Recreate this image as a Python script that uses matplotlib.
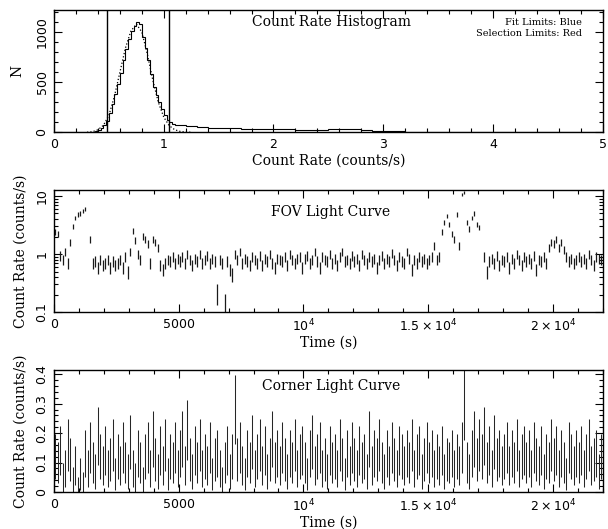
import numpy as np
import matplotlib
matplotlib.use("Agg")
import matplotlib.pyplot as plt
from matplotlib.ticker import MultipleLocator, FixedLocator, FixedFormatter, LogLocator, NullFormatter

nan = np.nan

# --- count rate histogram (counts per bin) ---
hist_edges = np.concatenate([np.linspace(0.30, 1.10, 33)[:-1], np.linspace(1.10, 5.0, 40)])
hist_counts = [0, 2, 5, 12, 25, 45, 70, 110,
               190, 280, 380, 480, 590, 720, 830, 930,
               1010, 1060, 1100, 1080, 950, 840, 720, 580,
               450, 370, 300, 230, 170, 120, 100, 85,
               70, 60, 52, 45, 40, 38, 35, 33, 30, 30,
               28, 27, 26, 26, 28, 30, 28, 22, 15, 10,
               8, 7, 6, 5, 4, 4, 3, 3, 2, 2,
               2, 2, 1, 1, 1, 1, 1, 1, 1]
fit_rate = [0.30, 0.35, 0.40, 0.45, 0.50, 0.55, 0.60, 0.65, 0.70, 0.75,
            0.80, 0.85, 0.90, 0.95, 1.00, 1.05, 1.10, 1.15, 1.20, 1.25]
fit_counts = [0, 5, 25, 70, 170, 360, 600, 840, 1010, 1080,
              1000, 780, 520, 300, 150, 65, 25, 8, 2, 0]
sel_limits = [0.48, 1.05]

# --- light curves, 100 s bins ---
bin_size = 100.0
fov_rate = [
    2.4, 2.2, 0.95, 0.8, 1.1, 0.7, 1.6, 3.0, 4.2, 4.8,
    5.0, 5.5, 5.9, nan, 1.8, 0.7, 0.75, 0.6, 0.8, 0.65,
    0.7, 0.8, 0.6, 0.75, 0.65, 0.7, 0.8, 0.6, 0.9, 0.5,
    1.1, 2.5, 1.7, 1.0, 0.8, 2.0, 1.8, 1.5, 0.7, 1.8,
    1.6, 1.3, 0.65, 0.55, 0.7, 0.8, 0.75, 0.9, 0.7, 0.85,
    0.75, 0.9, 0.7, 1.0, 0.8, 0.65, 0.85, 0.75, 1.0, 0.7,
    0.8, 0.95, 0.7, 0.85, 0.75, 0.22, 0.8, 0.7, 0.14, 0.75,
    0.55, 0.45, 1.0, 0.8, 1.1, 0.7, 0.85, 0.75, 0.65, 0.9,
    0.8, 0.7, 0.95, 0.65, 0.85, 0.75, 1.0, 0.7, 0.6, 0.85,
    0.8, 0.75, 0.9, 0.65, 1.0, 0.8, 0.7, 0.85, 0.9, 0.6,
    0.85, 0.95, 0.7, 0.8, 1.1, 0.75, 0.6, 0.9, 0.8, 0.75,
    1.0, 0.7, 0.85, 0.65, 0.9, 1.1, 0.75, 0.8, 0.7, 0.95,
    0.75, 0.85, 0.65, 1.0, 0.8, 0.7, 0.9, 0.75, 0.85, 0.6,
    0.8, 0.95, 0.7, 0.85, 0.75, 1.05, 0.8, 0.65, 0.9, 0.75,
    0.7, 1.1, 0.85, 0.55, 0.8, 0.7, 0.9, 0.75, 0.85, 0.7,
    0.8, 0.9, 1.4, 0.8, 0.9, 2.4, 3.5, 4.5, 3.2, 2.2,
    1.8, 4.8, 1.4, 10.5, 11.5, 3.5, 2.7, 4.2, 5.0, 3.2,
    2.9, nan, 0.9, 0.5, 0.75, 0.85, 0.7, 0.95, 0.65, 0.8,
    0.75, 0.9, 0.6, 0.85, 0.7, 1.0, 0.8, 0.65, 0.9, 0.75,
    0.85, 0.7, 0.95, 0.55, 0.8, 0.75, 0.9, 0.7, 1.3, 1.6,
    1.5, 1.8, 1.3, 1.6, 1.2, 0.9, 0.75, 0.85, 0.7, 0.8,
    0.9, 0.75, 0.85, 0.7, 1.0, 0.8, 0.65, 0.9, 0.85, 0.8,
]
corner_rate = [
    0.12, 0.10, 0.14, 0.05, 0.08, 0.16, 0.11, 0.04, 0.09, 0.02,
    0.06, 0.03, 0.13, 0.08, 0.15, 0.10, 0.07, 0.19, 0.12, 0.09,
    0.14, 0.08, 0.11, 0.16, 0.06, 0.12, 0.09, 0.15, 0.10, 0.07,
    0.17, 0.08, 0.05, 0.13, 0.10, 0.04, 0.12, 0.15, 0.08, 0.18,
    0.11, 0.07, 0.14, 0.09, 0.16, 0.06, 0.12, 0.10, 0.15, 0.08,
    0.13, 0.18, 0.09, 0.21, 0.11, 0.07, 0.14, 0.10, 0.16, 0.08,
    0.12, 0.09, 0.15, 0.06, 0.11, 0.13, 0.08, 0.04, 0.10, 0.14,
    0.07, 0.12, 0.28, 0.11, 0.15, 0.09, 0.06, 0.13, 0.10, 0.17,
    0.08, 0.12, 0.16, 0.09, 0.14, 0.07, 0.11, 0.18, 0.10, 0.13,
    0.09, 0.15, 0.11, 0.07, 0.13, 0.10, 0.16, 0.08, 0.12, 0.14,
    0.10, 0.06, 0.13, 0.17, 0.09, 0.12, 0.15, 0.08, 0.11, 0.07,
    0.14, 0.10, 0.12, 0.08, 0.16, 0.11, 0.06, 0.13, 0.09, 0.15,
    0.11, 0.08, 0.14, 0.10, 0.12, 0.07, 0.18, 0.09, 0.13, 0.11,
    0.16, 0.10, 0.07, 0.13, 0.09, 0.15, 0.11, 0.08, 0.14, 0.12,
    0.09, 0.13, 0.10, 0.16, 0.08, 0.12, 0.14, 0.07, 0.11, 0.15,
    0.10, 0.13, 0.08, 0.12, 0.09, 0.14, 0.07, 0.11, 0.10, 0.13,
    0.08, 0.12, 0.09, 0.15, 0.30, 0.10, 0.07, 0.13, 0.18, 0.11,
    0.16, 0.12, 0.19, 0.10, 0.14, 0.08, 0.17, 0.11, 0.13, 0.09,
    0.12, 0.15, 0.09, 0.13, 0.10, 0.16, 0.08, 0.12, 0.14, 0.10,
    0.13, 0.08, 0.15, 0.11, 0.09, 0.14, 0.07, 0.12, 0.10, 0.16,
    0.11, 0.14, 0.08, 0.13, 0.10, 0.06, 0.15, 0.12, 0.09, 0.13,
    0.10, 0.14, 0.08, 0.12, 0.16, 0.09, 0.11, 0.13, 0.07, 0.12,
]

time_ticks = [0, 5000, 10000, 15000, 20000]
time_labels = ['0', '5000', r'$10^4$', r'$1.5\times10^4$', r'$2\times10^4$']

plt.rcParams['mathtext.fontset'] = 'dejavusans'
LABEL_FONT = dict(family='DejaVu Serif', size=10)
TICK_SIZE = 9

fig = plt.figure(figsize=(6.08, 5.29), dpi=100)


def style_axes(ax):
    ax.tick_params(which='both', direction='in', top=True, right=True,
                   labelsize=TICK_SIZE, width=0.8, pad=4)
    ax.tick_params(which='major', length=6)
    ax.tick_params(which='minor', length=3)
    for s in ax.spines.values():
        s.set_linewidth(1.0)
    for lab in ax.get_yticklabels():
        lab.set_rotation(90)
        lab.set_va('center')


# panel 1: histogram
ax1 = fig.add_axes([0.089, 0.750, 0.902, 0.231])
ax1.stairs(hist_counts, hist_edges, color='black', lw=0.8)
ax1.plot([0, 0.30], [0, 0], color='black', lw=0.8)
ax1.plot(fit_rate, fit_counts, color='black', lw=0.9, ls=':')
for v in sel_limits:
    ax1.axvline(v, color='black', lw=1.0)
ax1.set_xlim(0, 5)
ax1.set_ylim(0, 1220)
ax1.xaxis.set_major_locator(MultipleLocator(1))
ax1.xaxis.set_minor_locator(MultipleLocator(0.2))
ax1.yaxis.set_major_locator(MultipleLocator(500))
ax1.yaxis.set_minor_locator(MultipleLocator(100))
ax1.set_xlabel('Count Rate (counts/s)', **LABEL_FONT, labelpad=2)
ax1.set_ylabel('N', **LABEL_FONT, labelpad=8)
ax1.text(0.505, 0.90, 'Count Rate Histogram', transform=ax1.transAxes,
         ha='center', va='center', **LABEL_FONT)
ax1.text(0.962, 0.90, 'Fit Limits: Blue', transform=ax1.transAxes,
         ha='right', va='center', family='DejaVu Serif', size=7)
ax1.text(0.962, 0.81, 'Selection Limits: Red', transform=ax1.transAxes,
         ha='right', va='center', family='DejaVu Serif', size=7)
style_axes(ax1)

t = np.arange(len(fov_rate)) * bin_size + bin_size / 2
fov = np.array(fov_rate)
corner = np.array(corner_rate)
fov_exposure = 30.0
corner_exposure = 20.0
fov_err = np.sqrt(fov * fov_exposure) / fov_exposure
corner_err = np.sqrt(corner * corner_exposure) / corner_exposure

# panel 2: FOV light curve
ax2 = fig.add_axes([0.089, 0.410, 0.902, 0.231])
ax2.errorbar(t, fov, yerr=fov_err, fmt='none', ecolor='0.1', elinewidth=0.9)
ax2.set_yscale('log')
ax2.set_xlim(0, 22000)
ax2.set_ylim(0.1, 12.7)
ax2.yaxis.set_major_locator(FixedLocator([0.1, 1, 10]))
ax2.yaxis.set_major_formatter(FixedFormatter(['0.1', '1', '10']))
ax2.yaxis.set_minor_locator(LogLocator(base=10, subs=np.arange(2, 10)))
ax2.yaxis.set_minor_formatter(NullFormatter())
ax2.xaxis.set_major_locator(FixedLocator(time_ticks))
ax2.xaxis.set_major_formatter(FixedFormatter(time_labels))
ax2.xaxis.set_minor_locator(MultipleLocator(1000))
ax2.set_xlabel('Time (s)', **LABEL_FONT, labelpad=1)
ax2.set_ylabel('Count Rate (counts/s)', **LABEL_FONT, labelpad=6)
ax2.text(0.505, 0.82, 'FOV Light Curve', transform=ax2.transAxes,
         ha='center', va='center', **LABEL_FONT)
style_axes(ax2)

# panel 3: corner light curve
ax3 = fig.add_axes([0.089, 0.070, 0.902, 0.231])
ax3.errorbar(t, corner, yerr=corner_err, fmt='none', ecolor='0.15', elinewidth=0.75)
ax3.set_xlim(0, 22000)
ax3.set_ylim(0, 0.415)
ax3.yaxis.set_major_locator(FixedLocator([0, 0.1, 0.2, 0.3, 0.4]))
ax3.yaxis.set_major_formatter(FixedFormatter(['0', '0.1', '0.2', '0.3', '0.4']))
ax3.yaxis.set_minor_locator(MultipleLocator(0.02))
ax3.xaxis.set_major_locator(FixedLocator(time_ticks))
ax3.xaxis.set_major_formatter(FixedFormatter(time_labels))
ax3.xaxis.set_minor_locator(MultipleLocator(1000))
ax3.set_xlabel('Time (s)', **LABEL_FONT, labelpad=1)
ax3.set_ylabel('Count Rate (counts/s)', **LABEL_FONT, labelpad=6)
ax3.text(0.505, 0.87, 'Corner Light Curve', transform=ax3.transAxes,
         ha='center', va='center', **LABEL_FONT)
style_axes(ax3)

fig.savefig('out.png', dpi=100)
